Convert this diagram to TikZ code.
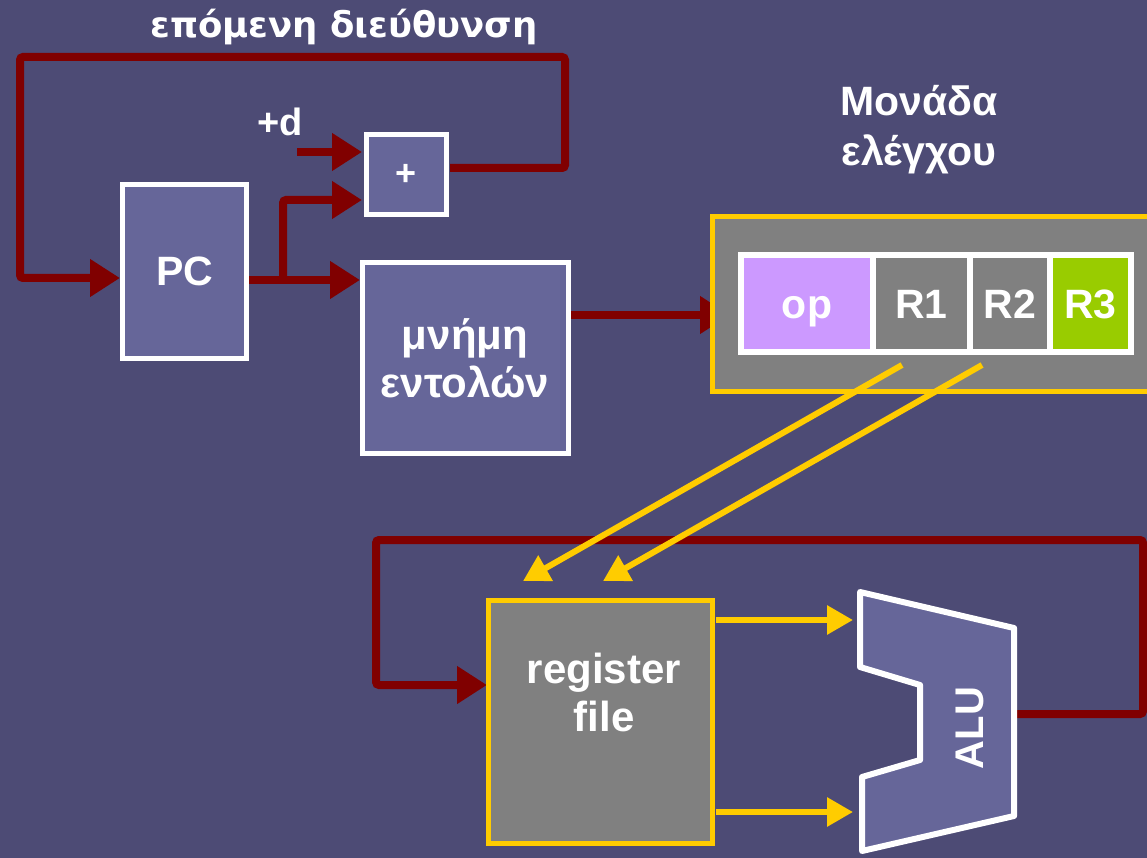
\documentclass[tikz,border=0pt]{standalone}
\usepackage{fontspec}
\setmainfont{Liberation Sans}
\newfontfamily\titlefont{DejaVu Sans}
\usetikzlibrary{arrows.meta}
\definecolor{bg}{RGB}{77,75,117}
\definecolor{boxfill}{RGB}{102,102,153}
\definecolor{dred}{RGB}{128,0,0}
\definecolor{gold}{RGB}{255,204,0}
\definecolor{opc}{RGB}{204,153,255}
\definecolor{rgreen}{RGB}{153,204,0}
\definecolor{gr}{RGB}{128,128,128}
\tikzset{
  wbox/.style={draw=white,line width=5pt,fill=boxfill},
  lbl/.style={text=white,font=\bfseries\fontsize{41}{46}\selectfont,align=center},
  field/.style={draw=none,minimum height=97pt,text=white,font=\bfseries\fontsize{41}{46}\selectfont,text height=30pt,text depth=0pt,inner sep=0pt},
  redline/.style={draw=dred,line width=8pt,rounded corners=3pt},
  redarr/.style={redline,-{Triangle[length=30pt,width=36pt]}},
  goldline/.style={draw=gold,line width=6pt},
  goldarr/.style={goldline,-{Triangle[length=26pt,width=28pt]}},
}
\begin{document}
\begin{tikzpicture}[x=1pt,y=-1pt]
\fill[bg] (0,0) rectangle (1147,858);
\useasboundingbox (0,0) rectangle (1147,858);
% texts
\node[text=white,font=\titlefont\bfseries\fontsize{35.5}{40}\selectfont] (title) at (344,27) {επόμενη διεύθυνση};
\node[lbl,font=\bfseries\fontsize{41}{50}\selectfont] (cu) at (919,130) {Μονάδα\\ελέγχου};
\node[lbl,font=\bfseries\fontsize{38}{42}\selectfont] (d) at (280,122) {+d};
% anchor coordinates
\coordinate (pcl) at (120,278);
\coordinate (pcr) at (249,280);
\coordinate (br) at (283,280);
\coordinate (plusr) at (450,168);
\coordinate (plusin1) at (362,152);
\coordinate (plusin2) at (362,200);
\coordinate (dstart) at (297,152);
\coordinate (meml) at (360,280);
\coordinate (memr) at (570,315);
\coordinate (cul) at (730,315);
\coordinate (alur) at (1014,714);
\coordinate (rfl) at (487,685);
\coordinate (r1) at (902,365);
\coordinate (r2) at (982,365);
\coordinate (rfin1) at (523,581);
\coordinate (rfin2) at (603,581);
\coordinate (rfo1) at (716,620);
\coordinate (rfo2) at (716,812);
\coordinate (alui1) at (853,620);
\coordinate (alui2) at (853,812);
% red connectors
\draw[redarr] (plusr) -- (565,168) -- (565,57) -- (20,57) -- (20,278) -- (pcl);
\draw[redarr] (pcr) -- (meml);
\draw[redarr] (br) -- (283,200) -- (plusin2);
\draw[redarr] (dstart) -- (plusin1);
\draw[redarr] (memr) -- (cul);
\draw[redarr] (alur) -- (1143,714) -- (1143,540) -- (376,540) -- (376,685) -- (rfl);
% boxes
\node[wbox,minimum width=124pt,minimum height=173pt,lbl] (pc) at (184.5,271.5) {PC};
\node[wbox,minimum width=80pt,minimum height=80pt,lbl,font=\bfseries\fontsize{36}{40}\selectfont] (plus) at (406,175) {+};
\node[wbox,minimum width=206pt,minimum height=190pt,lbl,font=\bfseries\fontsize{42}{48}\selectfont] (mem) at (465,358) {μνήμη\\εντολών};
% control unit
\draw[gold,line width=5pt,fill=gr] (712,217) rectangle (1160,391);
\node[field,fill=opc,minimum width=132pt] (op) at (807,303.5) {op};
\node[field,fill=gr,minimum width=97pt] (R1) at (921.5,303.5) {R1};
\node[field,fill=gr,minimum width=80pt] (R2) at (1010,303.5) {R2};
\node[field,fill=rgreen,minimum width=81pt] (R3) at (1090.5,303.5) {R3};
\draw[white,line width=6pt] (741,255) rectangle (1131,352);
\draw[white,line width=6pt] (873,255) -- (873,352) (970,255) -- (970,352) (1050,255) -- (1050,352);
% register file
\node[draw=gold,line width=5pt,fill=gr,minimum width=224pt,minimum height=243pt] (rf) at (600,722) {};
\node[lbl,font=\bfseries\fontsize{42}{48}\selectfont] (rft) at (604,692) {register\\file};
% ALU
\draw[white,line width=6pt,fill=boxfill,line join=round] (860,592) -- (1014,628) -- (1014,816) -- (862,851) -- (862,777) -- (920,760) -- (920,685) -- (860,667) -- cycle;
\node[text=white,font=\bfseries\fontsize{40}{44}\selectfont,rotate=90] (alu) at (970,728) {ALU};
% gold arrows
\draw[goldarr] (r1) -- (rfin1);
\draw[goldarr] (r2) -- (rfin2);
\draw[goldarr] (rfo1) -- (alui1);
\draw[goldarr] (rfo2) -- (alui2);
\end{tikzpicture}
\end{document}
